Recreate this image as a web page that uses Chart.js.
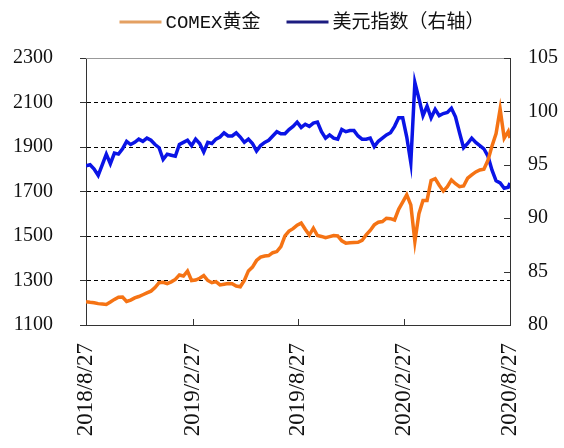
<!DOCTYPE html>
<html>
<head>
<meta charset="utf-8">
<script src="https://cdn.jsdelivr.net/npm/chart.js@4.4.0/dist/chart.umd.min.js"></script>
<style>
  html, body { margin: 0; padding: 0; background: #fff; }
  #wrap { width: 564px; height: 448px; }
</style>
</head>
<body>
<div id="wrap"><canvas id="goldChart"></canvas></div>
<script>
const startDate = '2018/8/27';
const sampleDays = [0,7,14,21,28,35,42,49,56,63,70,77,84,91,98,105,112,119,126,133,
  140,147,154,161,168,175,182,189,196,203,210,217,224,231,238,245,252,259,266,273,
  280,287,294,301,308,315,322,329,336,343,350,357,364,371,378,385,392,399,406,413,
  420,427,434,441,448,455,462,469,476,483,490,497,504,511,518,525,532,539,546,553,
  560,567,574,581,588,595,602,609,616,623,630,637,644,651,658,665,672,679,686,693,
  700,707,714,721,728,731];

const goldValues = [1205,1202,1200,1196,1194,1192,1203,1215,1225,1226,
  1206,1212,1222,1228,1236,1244,1252,1268,1290,1292,
  1286,1294,1305,1325,1320,1342,1300,1302,1310,1322,
  1300,1290,1295,1280,1283,1286,1285,1275,1272,1300,
  1343,1360,1390,1405,1410,1412,1425,1430,1452,1500,
  1522,1533,1549,1558,1530,1504,1535,1502,1498,1492,
  1497,1502,1500,1478,1468,1470,1471,1472,1480,1505,
  1525,1550,1562,1565,1580,1578,1572,1620,1652,1685,
  1640,1475,1600,1660,1660,1750,1758,1728,1702,1722,
  1752,1735,1722,1725,1760,1775,1788,1797,1800,1840,
  1905,1960,2070,1940,1970,1940];

const usdValues = [94.9,95.0,94.6,94.0,95.0,96.0,95.1,96.1,96.0,96.5,
  97.2,96.9,97.1,97.4,97.2,97.5,97.3,96.9,96.6,95.5,
  96.0,95.9,95.8,96.9,97.1,97.3,96.8,97.4,97.0,96.2,
  97.1,97.0,97.4,97.6,98.0,97.7,97.7,98.0,97.6,97.1,
  97.4,97.0,96.3,96.8,97.1,97.3,97.7,98.1,97.9,97.9,
  98.3,98.6,99.0,98.5,98.8,98.6,98.9,99.0,98.1,97.5,
  97.8,97.5,97.4,98.3,98.1,98.2,98.2,97.7,97.4,97.4,
  97.5,96.7,97.2,97.5,97.8,98.0,98.6,99.4,99.4,97.6,
  95.2,102.7,101.2,99.6,100.5,99.4,100.2,99.6,99.8,99.9,
  100.3,99.5,98.0,96.6,97.0,97.5,97.1,96.8,96.5,95.8,
  94.5,93.5,93.3,92.8,92.9,93.3];

const tickLabels = ['2018/8/27', '2019/2/27', '2019/8/27', '2020/2/27', '2020/8/27'];
const seriesNames = ['COMEX黄金', '美元指数（右轴）'];
const lineColors = ['#F57314', '#0A14E6'];
const legendColors = ['#E4A062', '#1C1C80'];

function dayOf(label) {
    return Math.round((Date.parse(label) - Date.parse(startDate)) / 864e5);
}
const tickDays = tickLabels.map(dayOf);

// top border, inward ticks on bottom/right axes
const frameExtras = {
    id: 'frameExtras',
    afterDraw(chart) {
        const c = chart.ctx, a = chart.chartArea;
        c.save();
        c.lineWidth = 1;
        c.strokeStyle = '#999';
        c.beginPath();
        c.moveTo(a.left, a.top + 0.5);
        c.lineTo(a.right, a.top + 0.5);
        c.stroke();
        c.strokeStyle = '#333';
        c.beginPath();
        tickDays.forEach(d => {
            const x = Math.round(chart.scales.x.getPixelForValue(d)) + 0.5;
            c.moveTo(x, a.bottom);
            c.lineTo(x, a.bottom - 6);
        });
        chart.scales.y1.ticks.forEach(t => {
            const y = Math.round(chart.scales.y1.getPixelForValue(t.value)) + 0.5;
            c.moveTo(a.right, y);
            c.lineTo(a.right - 6, y);
        });
        c.stroke();
        c.restore();
    }
};

// legend drawn by hand so it can sit higher than the plot
const topLegend = {
    id: 'topLegend',
    afterDraw(chart) {
        const c = chart.ctx, a = chart.chartArea;
        const lineW = 42, gap = 4, itemGap = 26, y = 22;
        c.save();
        c.font = '19px "Liberation Mono", "Noto Sans CJK SC", monospace';
        c.textBaseline = 'middle';
        c.fillStyle = '#111';
        const widths = seriesNames.map(s => c.measureText(s).width);
        const total = widths.reduce((s, w) => s + w + lineW + gap, 0) + itemGap;
        let x = (a.left + a.right) / 2 - total / 2 + 4;
        seriesNames.forEach((name, i) => {
            c.strokeStyle = legendColors[i];
            c.lineWidth = 3;
            c.beginPath();
            c.moveTo(x, y);
            c.lineTo(x + lineW, y);
            c.stroke();
            c.fillText(name, x + lineW + gap, y + 1);
            x += lineW + gap + widths[i] + itemGap;
        });
        c.restore();
    }
};

const serif = '"Liberation Serif", "DejaVu Serif", serif';

new Chart(document.getElementById('goldChart'), {
    type: 'line',
    data: {
        datasets: [{
            label: seriesNames[0],
            data: sampleDays.map((d, i) => ({ x: d, y: goldValues[i] })),
            borderColor: lineColors[0],
            borderWidth: 3.5,
            pointRadius: 0,
            yAxisID: 'y'
        }, {
            label: seriesNames[1],
            data: sampleDays.map((d, i) => ({ x: d, y: usdValues[i] })),
            borderColor: lineColors[1],
            borderWidth: 3.5,
            pointRadius: 0,
            yAxisID: 'y1'
        }]
    },
    options: {
        responsive: true,
        maintainAspectRatio: false,
        animation: false,
        layout: { padding: { left: 13, right: 0, top: 58, bottom: 0 } },
        plugins: {
            tooltip: { enabled: false },
            legend: { display: false }
        },
        scales: {
            x: {
                type: 'linear',
                min: tickDays[0],
                max: tickDays[tickDays.length - 1],
                afterBuildTicks(scale) {
                    scale.ticks = tickDays.map(v => ({ value: v }));
                },
                afterFit(scale) {
                    scale.height = 123;
                    scale.paddingLeft = 0;
                    scale.paddingRight = 0;
                },
                ticks: {
                    autoSkip: false,
                    minRotation: 90,
                    maxRotation: 90,
                    padding: 18,
                    color: '#111',
                    font: { family: serif, size: 23 },
                    callback: v => tickLabels[tickDays.indexOf(v)]
                },
                grid: { display: false, drawTicks: false },
                border: { display: true, color: '#333' }
            },
            y: {
                position: 'left',
                min: 1100,
                max: 2300,
                afterFit(scale) { scale.width = 73; },
                ticks: {
                    stepSize: 200,
                    padding: 27,
                    color: '#111',
                    font: { family: serif, size: 20 },
                    callback: v => String(v)
                },
                grid: {
                    color: ctx => (ctx.tick.value === 1100 || ctx.tick.value === 2300) ? 'rgba(0,0,0,0)' : '#000',
                    tickColor: '#333',
                    tickLength: 6,
                    tickBorderDash: [],
                    lineWidth: 1
                },
                border: { display: true, color: '#333', dash: [4, 3] }
            },
            y1: {
                position: 'right',
                min: 80,
                max: 105,
                afterFit(scale) { scale.width = 54; },
                ticks: {
                    stepSize: 5,
                    padding: 18,
                    color: '#111',
                    font: { family: serif, size: 20 }
                },
                grid: { display: false, drawTicks: false },
                border: { display: true, color: '#333' }
            }
        }
    },
    plugins: [frameExtras, topLegend]
});
</script>
</body>
</html>
